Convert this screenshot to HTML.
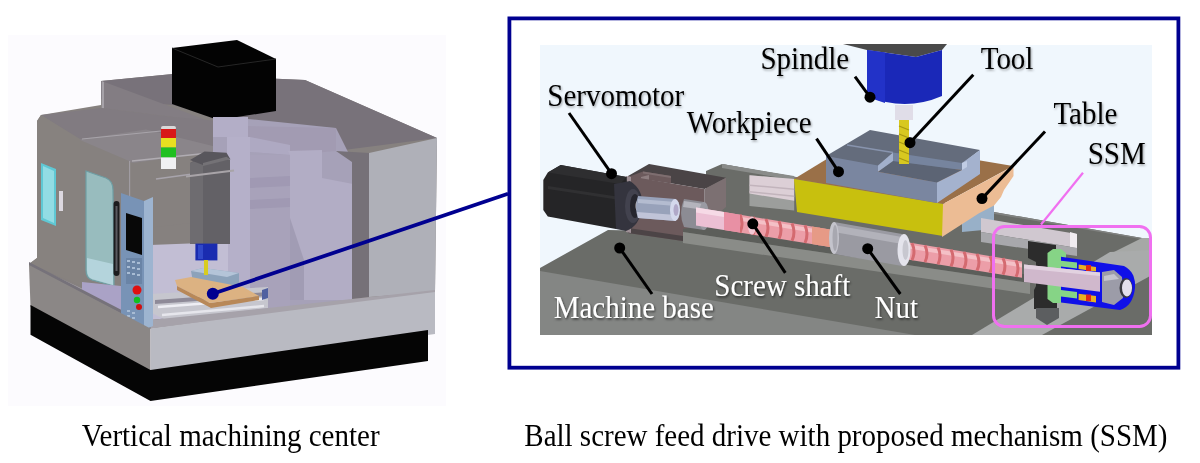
<!DOCTYPE html>
<html><head><meta charset="utf-8">
<style>
html,body{margin:0;padding:0;background:#fff;width:1200px;height:463px;overflow:hidden}
svg{position:absolute;left:0;top:0}
.lbl{font-family:"Liberation Serif",serif;font-size:29px}
</style></head>
<body>
<svg width="1200" height="463" viewBox="0 0 1200 463">
<defs>
<filter id="noop" x="-5%" y="-20%" width="110%" height="140%"><feOffset dx="0" dy="0"/></filter>
<filter id="shB" x="-10%" y="-30%" width="130%" height="160%"><feDropShadow dx="1" dy="1.5" stdDeviation="1" flood-color="#000" flood-opacity="0.35"/></filter>
<filter id="shW" x="-10%" y="-30%" width="130%" height="160%"><feDropShadow dx="1" dy="1.5" stdDeviation="1" flood-color="#000" flood-opacity="0.6"/></filter>
</defs>
<!-- ============ LEFT: machining center ============ -->
<g id="left">
<rect x="8" y="35" width="438" height="371" fill="#fcfbfe"/>
<!-- body silhouette -->
<polygon points="37,121 41,115 101,105 101,81 173,74 305,80 437,138 435,292 149,329 29,264 37,258" fill="#86817f"/>
<!-- raised roof -->
<polygon points="101,81 173,74 305,80 437,138 336,151 230,120 173,105 101,99" fill="#78727a"/>
<polygon points="101.7,81 185,112 218,125 173,117 101.7,108" fill="#837d83"/>
<polygon points="101.7,81 101.7,108 104,108.5 104,82" fill="#a6a2a8"/>
<!-- lower roof -->
<polygon points="41,115 101.7,108 173,117 230,122 229,150 132,161 80,140" fill="#817b81"/>
<polygon points="75,141 82,139 146,129.5 229,150 133,163" fill="#8a858a"/>
<line x1="82" y1="139" x2="161" y2="131" stroke="#a8a4aa" stroke-width="1.2"/>
<line x1="132" y1="161" x2="229" y2="151" stroke="#b0acb2" stroke-width="1.5"/>
<line x1="156" y1="179" x2="229" y2="169" stroke="#a8a4ac" stroke-width="1.5"/>
<line x1="129.6" y1="161" x2="129.6" y2="230" stroke="#a09ca2" stroke-width="1.2"/>
<!-- black box -->
<polygon points="172,48 237,40 276,59 276,111 218,120 172,104" fill="#030303"/>
<polyline points="172,48 218,67 276,59" fill="none" stroke="#262626" stroke-width="1"/>
<!-- purple translucent structure -->
<polygon points="213,121 248,119 336,128 352,160 352,312 213,312" fill="#a6a1b8"/>
<polygon points="247,126 336,128 336,151 290,155 250,152 247,137" fill="#a29bb2"/>
<polygon points="213,117 248,117 248,137 213,137" fill="#b3aec7"/>
<polygon points="227,137 250,137 250,318 227,318" fill="#b5b0c9"/>
<polygon points="250,137 290,145 290,155 250,152" fill="#aea9c2"/>
<polygon points="288,151 322,150 322,178 353,184 353,300 290,300 290,155" fill="#b2adc5"/>
<polygon points="290,218 304,260 304,300 290,300" fill="#a19cb4"/>
<polygon points="250,178 290,176 290,186 250,188" fill="#948ca8"/>
<polygon points="250,200 290,198 290,207 250,209" fill="#948ca8"/>
<polygon points="250,155 290,155 290,318 250,318" fill="#a9a4bc" fill-opacity="0.55"/>
<!-- right panel & strip -->
<polygon points="336,151 369,153 369,297 352,299 352,162" fill="#767178"/>
<polygon points="369,153 437,138 435,292 369,297" fill="#afb0b8"/>
<polygon points="129,230 200,222 200,244 150,246 150,300 129,300" fill="#86817f"/>
<!-- interior floor / table -->
<polygon points="150,245 228,242 228,312 150,320" fill="#c2bed4"/>
<polygon points="150,294 268,287 268,308 166,320 150,312" fill="#c6c6ce"/>
<polygon points="155,300 268,292 268,296 155,304" fill="#8e8a98"/>
<line x1="158" y1="307" x2="264" y2="299" stroke="#eeeef4" stroke-width="2.5"/>
<line x1="162" y1="315" x2="264" y2="306" stroke="#e6e6ec" stroke-width="2.5"/>
<polygon points="191,271 203,268 239,273 239,286 193,282" fill="#8ca2ba"/>
<polygon points="191,271 203,268 239,273 227,277" fill="#b4c4d8"/>
<polygon points="175,280 191,277 243,287 259,296 210,303 177,286" fill="#dcb282"/>
<polygon points="177,286 210,303 259,296 259,300 211,308 177,290" fill="#b88858"/>
<polygon points="262,290 268,288 268,298 262,300" fill="#5060a0"/>
<!-- spindle head -->
<polygon points="190,163 200,157 230,160 230,244 190,244" fill="#636166"/>
<polygon points="190,163 203,158 203,244 190,244" fill="#6e6c70"/>
<polygon points="190,160 204.5,151.5 226.5,152.8 230.4,159.3 203,165" fill="#58565c"/><polygon points="203,163 226.5,156.7 230.4,159.3 203,166" fill="#747276"/>
<line x1="186" y1="176.5" x2="234" y2="170.5" stroke="#a8a4a8" stroke-width="2"/>
<rect x="195.4" y="243.6" width="22" height="16.8" fill="#1a2cb0"/>
<rect x="198" y="245" width="5" height="14" fill="#3048c8"/>
<rect x="204" y="260" width="4" height="15" fill="#d8cc20"/>
<!-- left side face -->
<polygon points="37,121 41,115 80,139 80,285 29,264 37,258" fill="#87827f"/>
<polygon points="41,163 56,169 56,226 41,220" fill="#5fc8d4"/>
<polygon points="43,166 54,171 54,223 43,218" fill="#92dce4"/>
<rect x="59" y="191" width="4" height="20" fill="#dcd8e0"/>
<!-- front door -->
<polygon points="80,140 129,161 129,290 80,285" fill="#86817f"/>
<path d="M86,171 L106,178 Q113,181 113,190 L114,286 L92,280 Q86,278 86,270 Z" fill="#98bcbe" stroke="#6e9ea4" stroke-width="1.2"/>
<path d="M87,258 L113,264 L113,285 L92,279 Q87,277 87,270 Z" fill="#b4d4dc"/>
<!-- base band -->
<polygon points="29,264 150,320 268,308 352,299 435,290 435,294 150.5,328.5 29,266" fill="#a6a2aa"/>
<polygon points="82,282 121,286 121,314 82,293" fill="#aaa2c6"/>
<polygon points="29,262 150.5,325 150.5,329 29,266" fill="#76727a"/>
<!-- control panel -->
<polygon points="121,193 144,201 144,330 121,322" fill="#7893b6"/>
<polygon points="144,201 153,197 153,326 144,330" fill="#9db4d0"/>
<polygon points="126,213 142,218 142,255 126,250" fill="#080808"/>
<rect x="126" y="258" width="16" height="26" fill="#6a84a6"/>
<g fill="#a8bcd4"><rect x="127" y="260" width="3" height="2"/><rect x="132" y="261" width="3" height="2"/><rect x="137" y="262" width="3" height="2"/><rect x="127" y="266" width="3" height="2"/><rect x="132" y="267" width="3" height="2"/><rect x="137" y="268" width="3" height="2"/><rect x="127" y="272" width="3" height="2"/><rect x="132" y="273" width="3" height="2"/><rect x="137" y="274" width="3" height="2"/><rect x="127" y="310" width="3" height="2"/><rect x="127" y="315" width="3" height="2"/><rect x="132" y="312" width="3" height="2"/><rect x="132" y="317" width="3" height="2"/></g>
<rect x="113.5" y="201" width="6" height="75" rx="3" fill="#1c1c1e"/><rect x="115.5" y="206" width="2" height="65" fill="#5a5a60"/>
<circle cx="137" cy="290" r="4.5" fill="#e01010"/>
<circle cx="137" cy="300" r="3.2" fill="#10c020"/>
<circle cx="139" cy="307" r="3" fill="#d01010"/>
<polygon points="29,265 150.5,328.5 150.5,372.6 30.5,307" fill="#8b8786"/>
<polygon points="150.5,328.5 435,292 435,334 150.5,372.6" fill="#b9bac2"/>
<!-- plinth -->
<polygon points="30.5,305 30.5,334.7 150.5,401 428,361 428,330 150.5,370" fill="#050505"/>
<!-- signal tower -->
<rect x="161" y="126" width="15" height="4" rx="2" fill="#d8d8d8"/>
<rect x="161" y="129" width="15" height="9" fill="#d81818"/>
<rect x="161" y="138" width="15" height="9.5" fill="#e8e020"/>
<rect x="161" y="147.5" width="15" height="10" fill="#20c020"/>
<rect x="161" y="157.5" width="15" height="11.5" fill="#f0f0f2"/>
<!-- leader line to frame -->
<line x1="212.8" y1="293.8" x2="508" y2="193.7" stroke="#000090" stroke-width="3.8"/>
<circle cx="212.8" cy="293.8" r="6" fill="#000090"/>
</g>

<!-- ============ RIGHT: frame ============ -->
<rect x="509.4" y="18.4" width="669" height="349.3" fill="none" stroke="#000090" stroke-width="3.8"/>
<g id="right">
<rect x="540" y="45" width="612" height="290" fill="#f0f7fd"/>
<!-- base slab -->
<polygon points="540,268 608,230 706,232 706,171 722,164 1142,238 1152,238 1152,335 540,335" fill="#6a6c68"/>
<polygon points="722,164 1142,238 1152,238 1152,241 722,167" fill="#808280"/>
<polygon points="1106,256 1142,238 1152,238 1152,262 1106,280" fill="#a6a8a6"/>
<!-- groove lip -->
<polygon points="683,224 1030,275 1030,283 683,232" fill="#5c5e5a"/>
<polygon points="683,232 1030,283 1030,294 683,243" fill="#8a8c88"/>
<!-- front face -->
<polygon points="540,271 915,335 540,335" fill="#848684"/>
<polygon points="972,335 1042,335 1152,275 1152,250 1110,252" fill="#a9abab"/>
<!-- motor bracket -->
<polygon points="628,176 649,164 726,177.8 704.6,189" fill="#4a4446"/>
<polygon points="628,177 643,171.5 671,176 671,183.3" fill="#6c5a5c"/>
<polygon points="643,171.5 671,176 671,178 643,173.5" fill="#7e6e70"/>
<polygon points="641,177 649,175 649,182 641,184" fill="#8e7e80"/>
<polygon points="628,176 704.6,189 704.6,225 683,229 683,241 628,233" fill="#6c5a5c"/>
<polygon points="628,228 683,236 683,241 628,233" fill="#4c4446"/>
<polygon points="626,176 631,177 631,233 626,232" fill="#9e9096"/>
<polygon points="704.6,189 726,177.8 726,207 704.6,225" fill="#7c7072"/>
<!-- back rail -->
<polygon points="722,164 794,176 794,180 722,168" fill="#8a8c8a"/>
<polygon points="749.5,175.3 794.2,179 794.2,210.4 749.5,206" fill="#9c9e9c"/>
<polygon points="749.5,175.3 794.2,179 794.2,200.7 749.5,193.6" fill="#dccfd6"/>
<polygon points="749.5,184.5 794.2,188.5 794.2,190 749.5,186" fill="#c2b4bc"/>
<polygon points="749.5,191 794.2,195.5 794.2,197 749.5,192.5" fill="#c2b4bc"/>
<!-- motor -->
<polygon points="543.3,180 547.8,172.4 560.7,165 626.7,177 627,186 616,229 547.8,216.5 543.3,210" fill="#252527"/>
<polygon points="547.8,172.4 560.7,165 626.7,177 620,184" fill="#2e2e30"/>
<polygon points="548,186 620,197 620,200 548,189" fill="#303032"/>
<path d="M614,184 L630,181 Q644,190 642,207 Q640,226 626,231 L616,229 Z" fill="#34343e"/>
<ellipse cx="633" cy="206" rx="8" ry="17" fill="#42424e"/>
<ellipse cx="635" cy="206" rx="5" ry="12" fill="#26262e"/>
<ellipse cx="638" cy="206" rx="2.5" ry="5" fill="#c8c0c0"/>
<!-- coupling -->
<path d="M638,196 L676,199 L676,221 L638,218 Q634,207 638,196 Z" fill="#98a2ba"/>
<path d="M638,199 L676,202 L676,206 L638,203 Z" fill="#b4bcd0"/>
<path d="M637,212 L676,215 L676,221 L638,218 Z" fill="#c0c4d8"/>
<ellipse cx="675" cy="210" rx="5" ry="11" fill="#d4d8ec"/>
<ellipse cx="676" cy="210" rx="2.5" ry="6" fill="#b0a8c8"/>
<path d="M684,199 L704,202 Q712,214 704,230 L684,227 Q678,213 684,199 Z" fill="#8c8c94"/>
<path d="M684,201 L704,204 L705,210 L683,207 Z" fill="#b4b4bc"/>
<ellipse cx="704" cy="216" rx="5" ry="14" fill="#9a9aa2"/>
<!-- screw shaft smooth left -->
<polygon points="696,207.4 724,212.0 724,230.0 696,225.5" fill="#ecc0d4"/>
<polygon points="696,207.4 724,212.0 724,217.0 696,212.4" fill="#f6dae6"/>
<!-- threaded parts -->
<polygon points="724,212.0 830,229.6 830,247.0 724,230.0" fill="#ec9ea8"/>
<polygon points="909,242.6 1022,261.4 1022,277.8 909,259.7" fill="#ec9ea8"/>
<polygon points="724,214.0 830,231.6 830,235.6 724,218.0" fill="#f4c0c6"/>
<polygon points="909,244.6 1022,263.4 1022,267.4 909,248.6" fill="#f4c0c6"/>
<path d="M740.0,214.7 q4,9.0 0,17.9" stroke="#d46a70" stroke-width="3" fill="none"/>
<path d="M753.0,216.8 q4,8.9 0,17.8" stroke="#d46a70" stroke-width="3" fill="none"/>
<path d="M766.0,219.0 q4,8.9 0,17.8" stroke="#d46a70" stroke-width="3" fill="none"/>
<path d="M779.0,221.1 q4,8.9 0,17.7" stroke="#d46a70" stroke-width="3" fill="none"/>
<path d="M792.0,223.3 q4,8.8 0,17.6" stroke="#d46a70" stroke-width="3" fill="none"/>
<path d="M805.0,225.4 q4,8.8 0,17.6" stroke="#d46a70" stroke-width="3" fill="none"/>
<path d="M818.0,227.6 q4,8.8 0,17.5" stroke="#d46a70" stroke-width="3" fill="none"/>
<path d="M912.0,243.1 q4,8.5 0,17.0" stroke="#d46a70" stroke-width="3" fill="none"/>
<path d="M925.0,245.3 q4,8.5 0,16.9" stroke="#d46a70" stroke-width="3" fill="none"/>
<path d="M938.0,247.4 q4,8.4 0,16.9" stroke="#d46a70" stroke-width="3" fill="none"/>
<path d="M951.0,249.6 q4,8.4 0,16.8" stroke="#d46a70" stroke-width="3" fill="none"/>
<path d="M964.0,251.8 q4,8.4 0,16.7" stroke="#d46a70" stroke-width="3" fill="none"/>
<path d="M977.0,253.9 q4,8.3 0,16.7" stroke="#d46a70" stroke-width="3" fill="none"/>
<path d="M990.0,256.1 q4,8.3 0,16.6" stroke="#d46a70" stroke-width="3" fill="none"/>
<path d="M1003.0,258.2 q4,8.3 0,16.5" stroke="#d46a70" stroke-width="3" fill="none"/>
<path d="M1016.0,260.4 q4,8.2 0,16.5" stroke="#d46a70" stroke-width="3" fill="none"/>
<polygon points="724,212.0 740,214.7 740,232.6 724,230.0" fill="#e890a4"/>
<ellipse cx="752" cy="225.6" rx="4" ry="9" fill="#f4c8d4"/>
<polygon points="812,226.6 830,229.6 830,247.0 812,244.1" fill="#e69a86"/>
<!-- smooth part right -->
<!-- nut -->
<polygon points="834,222 902,234 902,266 834,254" fill="#9a9aa2"/>
<polygon points="834,225 902,237 902,244 834,232" fill="#b2b2ba"/>
<ellipse cx="834" cy="238" rx="5" ry="16" fill="#c4c4cc"/>
<ellipse cx="835" cy="238" rx="2.5" ry="13" fill="#a8a8b0"/>
<ellipse cx="904" cy="250" rx="6.5" ry="16" fill="#e4e4ec"/>
<ellipse cx="905.5" cy="250" rx="3" ry="10" fill="#c8c8d0"/>
<polygon points="962,206 994,200 994,229 962,232" fill="#98b0c8"/>
<!-- table -->
<polygon points="794,179 858,140 1013,166 943,204" fill="#9a7048"/>
<polygon points="794,179 943,204 943,236 797,212" fill="#c8c00e"/>
<polygon points="943,204 1013.5,166 1013.5,176 1004,190 1001,197 994,205.5 979,213.3 942,237" fill="#ecbc94"/>
<!-- side rail right of table -->
<polygon points="981,218 1077,234 1077,248 981,232" fill="#d0c8d0"/>
<polygon points="1070,232 1077,234 1077,248 1070,247" fill="#f0ecf0"/>
<polygon points="981,232 1077,248 1077,256 981,242" fill="#a8a8ac"/>
<!-- workpiece -->
<polygon points="826,156 870,130 980,150 937,183" fill="#646c7c"/>
<polygon points="878,171.8 893,161 962,170 937,182.6" fill="#5c6474"/>
<polygon points="878,165.5 893,152.4 893,161 878,171.8" fill="#a2b0cc"/>
<polygon points="893,152.4 962,163 962,170 893,161" fill="#76849e"/>
<polygon points="826,156 878,165.5 878,171.8 937,182.6 937,203 826,183" fill="#7a86a0"/>
<polygon points="937,182.6 962,170 962,163 980,150 980,174 937,203" fill="#a4b2ce"/>
<polygon points="962,163 967,161 967,167 962,170" fill="#c0cce4"/>
<line x1="847" y1="145" x2="893" y2="152.4" stroke="#8894ae" stroke-width="1.5"/>
<!-- spindle -->
<polygon points="843,44 947,44 942,50 916,57 867,50" fill="#4a4a4a"/>
<path d="M867,50 L916,57 L942,50 L942,96 Q905,112 867,96 Z" fill="#1a28b8"/>
<path d="M867,50 L885,52.5 L885,103 Q875,100 867,96 Z" fill="#2232c8"/>
<rect x="895" y="105" width="18" height="15" fill="#e0dde8"/>
<rect x="899" y="120" width="10" height="44" fill="#d8c820"/>
<g stroke="#a89810" stroke-width="1.2">
<line x1="899" y1="126" x2="909" y2="130"/><line x1="899" y1="134" x2="909" y2="138"/><line x1="899" y1="142" x2="909" y2="146"/><line x1="899" y1="150" x2="909" y2="154"/><line x1="899" y1="158" x2="909" y2="162"/>
</g>
<!-- SSM -->
<polygon points="1028,241 1056,245 1056,258 1050,260 1050,300 1057,302 1057,309 1034,309 1034,290 1036,286 1036,262 1028,258" fill="#2c2c2c"/>
<polygon points="1036,308 1059,308 1059,318 1047,325 1036,318" fill="#5c5e60"/>
<polygon points="1047.5,253 1053,249 1061,249 1066,253 1066,299 1061,303 1053,303 1047.5,299" fill="#86d486"/>
<path d="M1061,256.8 L1124,266 Q1136,272 1135,288 Q1133,306 1120,310 L1061,302.5 Z" fill="#1010e8"/>
<polygon points="1061,260.7 1077,262.5 1077,268.5 1061,266.5" fill="#86d486"/>
<polygon points="1061,290 1077,292 1077,298.6 1061,296.6" fill="#86d486"/>
<polygon points="1078.6,264.6 1096,267 1096,271.4 1078.6,269" fill="#e8b020"/>
<rect x="1086" y="265" width="5" height="6" fill="#e02818"/>
<polygon points="1078.6,293.7 1096,296 1096,302.5 1078.6,300" fill="#e8b020"/>
<rect x="1086" y="294.5" width="5" height="6.5" fill="#e02818"/>
<polygon points="1024,264.6 1100,272.4 1100,291.8 1024,282" fill="#d0b8cc"/>
<polygon points="1024,264.6 1100,272.4 1100,276 1024,268.5" fill="#e2d2e0"/>
<polygon points="1102,272 1114,270 1122,277 1123,298 1114,305 1102,302" fill="#9c9ca8"/>
<polygon points="1104,276 1114,274 1119,279 1104,281" fill="#c4c4ce"/>
<ellipse cx="1126" cy="288" rx="6.5" ry="10" fill="#3a3a40"/>
<ellipse cx="1127" cy="288" rx="5" ry="8.5" fill="#e4e0ec"/>
<rect x="993.5" y="226.5" width="157" height="100" rx="11" fill="none" stroke="#f070f0" stroke-width="3"/>
<line x1="1083" y1="172.7" x2="1041" y2="224.5" stroke="#f070f0" stroke-width="2.2"/>
<!-- leader lines -->
<g stroke="#000" stroke-width="3">
<line x1="569" y1="113" x2="611.5" y2="173.7"/>
<line x1="855" y1="76.7" x2="870" y2="97.2"/>
<line x1="973.3" y1="74.7" x2="910" y2="142.7"/>
<line x1="816.5" y1="138.7" x2="838.5" y2="171.7"/>
<line x1="1045" y1="131.5" x2="982" y2="198.6"/>
<line x1="619.7" y1="248" x2="652" y2="294"/>
<line x1="752.8" y1="223.8" x2="785.3" y2="272.8"/>
<line x1="867.7" y1="248.7" x2="900.3" y2="294"/>
</g>
<g fill="#000">
<circle cx="611.5" cy="173.7" r="5.5"/>
<circle cx="870" cy="97.2" r="5.5"/>
<circle cx="910" cy="142.7" r="5.5"/>
<circle cx="838.5" cy="171.7" r="5.5"/>
<circle cx="982" cy="198.6" r="5.5"/>
<circle cx="619.7" cy="248" r="5.5"/>
<circle cx="752.8" cy="223.8" r="5.5"/>
<circle cx="867.7" cy="248.7" r="5.5"/>
</g>
<!-- labels -->
<g class="lbl" fill="#000" filter="url(#shB)">
<text transform="translate(547.3,105.8) scale(1,1.07)">Servomotor</text>
<text transform="translate(760.5,69.3) scale(1,1.07)">Spindle</text>
<text transform="translate(980.7,69.3) scale(1,1.07)">Tool</text>
<text transform="translate(686.7,133.1) scale(1,1.07)">Workpiece</text>
<text transform="translate(1053.4,123.7) scale(1,1.07)">Table</text>
<text transform="translate(1087.7,164.3) scale(1,1.07)">SSM</text>
</g>
<g class="lbl" fill="#fff" filter="url(#shW)">
<text transform="translate(714.3,296.3) scale(1,1.07)">Screw shaft</text>
<text transform="translate(874.5,318.3) scale(1,1.07)">Nut</text>
<text transform="translate(553.7,318.3) scale(1,1.07)">Machine base</text>
</g>
</g>
<!-- captions -->
<g class="lbl" fill="#000" filter="url(#noop)">
<text transform="translate(81.8,446.1) scale(1,1.07)">Vertical machining center</text>
<text transform="translate(524.3,446.3) scale(1,1.07)">Ball screw feed drive with proposed mechanism (SSM)</text>
</g>
</svg>
</body></html>
